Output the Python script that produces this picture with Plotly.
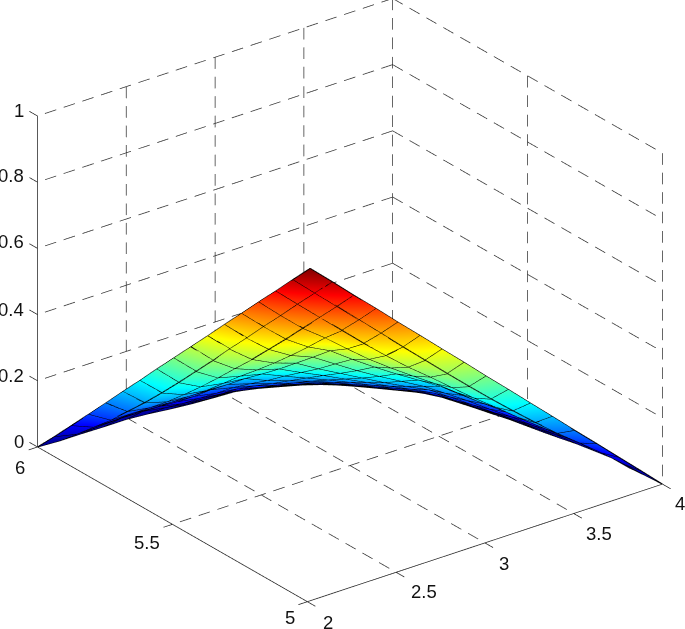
import plotly.graph_objects as go

x_ticks = [2, 2.5, 3, 3.5, 4]
y_ticks = [5, 5.5, 6]
z_ticks = [0, 0.2, 0.4, 0.6, 0.8, 1]

# surface nodes, one row per mesh line
x_grid = [
    [3.014,3.076,3.137,3.199,3.260,3.322,3.384,3.446,3.507,3.569,3.631,3.692,3.754,3.816,3.878,3.939,4.000],
    [2.950,3.008,3.065,3.123,3.180,3.238,3.296,3.356,3.416,3.480,3.546,3.617,3.692,3.775,3.853,3.926,3.993],
    [2.886,2.939,2.996,3.051,3.108,3.170,3.237,3.312,3.381,3.455,3.533,3.609,3.688,3.768,3.852,3.925,3.983],
    [2.823,2.872,2.925,3.001,3.065,3.134,3.211,3.294,3.381,3.457,3.534,3.616,3.690,3.765,3.845,3.925,3.983],
    [2.759,2.804,2.857,2.937,3.042,3.119,3.199,3.286,3.376,3.465,3.539,3.614,3.692,3.766,3.838,3.913,3.965],
    [2.695,2.736,2.790,2.878,2.992,3.074,3.158,3.247,3.340,3.436,3.516,3.594,3.668,3.743,3.812,3.884,3.946],
    [2.632,2.668,2.727,2.825,2.944,3.031,3.122,3.213,3.305,3.402,3.503,3.576,3.650,3.721,3.793,3.860,3.922],
    [2.568,2.601,2.666,2.775,2.898,2.992,3.090,3.183,3.279,3.373,3.469,3.564,3.633,3.704,3.775,3.840,3.899],
    [2.504,2.534,2.606,2.731,2.856,2.954,3.054,3.156,3.252,3.346,3.439,3.535,3.620,3.686,3.752,3.820,3.878],
    [2.440,2.467,2.549,2.678,2.816,2.914,3.020,3.124,3.225,3.318,3.412,3.502,3.596,3.671,3.734,3.797,3.857],
    [2.377,2.404,2.497,2.628,2.771,2.878,2.983,3.090,3.195,3.293,3.383,3.472,3.562,3.651,3.716,3.774,3.831],
    [2.313,2.345,2.452,2.585,2.725,2.840,2.949,3.056,3.161,3.263,3.355,3.442,3.527,3.613,3.698,3.752,3.806],
    [2.249,2.293,2.412,2.542,2.674,2.790,2.915,3.017,3.124,3.226,3.322,3.412,3.493,3.575,3.657,3.730,3.780],
    [2.186,2.243,2.378,2.503,2.630,2.742,2.862,2.983,3.085,3.188,3.286,3.376,3.459,3.537,3.614,3.692,3.753],
    [2.122,2.199,2.334,2.466,2.592,2.694,2.813,2.933,3.048,3.146,3.245,3.337,3.421,3.499,3.571,3.645,3.718],
    [2.058,2.160,2.291,2.423,2.550,2.656,2.761,2.879,2.999,3.104,3.199,3.292,3.381,3.458,3.530,3.600,3.668],
    [2.000,2.118,2.242,2.364,2.488,2.601,2.710,2.822,2.938,3.057,3.152,3.244,3.332,3.414,3.487,3.553,3.618],
]
y_grid = [
    [5.657,5.616,5.575,5.534,5.493,5.452,5.411,5.370,5.329,5.287,5.246,5.205,5.164,5.123,5.082,5.041,5.000],
    [5.678,5.634,5.590,5.547,5.503,5.459,5.416,5.373,5.331,5.292,5.254,5.218,5.186,5.158,5.129,5.095,5.057],
    [5.699,5.653,5.608,5.563,5.519,5.478,5.440,5.407,5.373,5.339,5.309,5.277,5.246,5.218,5.191,5.158,5.114],
    [5.721,5.671,5.625,5.593,5.553,5.517,5.487,5.459,5.435,5.403,5.371,5.344,5.311,5.278,5.250,5.221,5.177],
    [5.742,5.690,5.643,5.614,5.601,5.570,5.541,5.517,5.494,5.471,5.438,5.406,5.375,5.342,5.309,5.276,5.228],
    [5.763,5.708,5.662,5.639,5.632,5.604,5.578,5.554,5.534,5.515,5.486,5.456,5.422,5.390,5.354,5.319,5.280],
    [5.784,5.727,5.683,5.666,5.663,5.638,5.617,5.595,5.573,5.556,5.540,5.507,5.473,5.438,5.404,5.367,5.326],
    [5.805,5.745,5.707,5.696,5.696,5.676,5.658,5.638,5.620,5.599,5.581,5.562,5.526,5.490,5.455,5.417,5.374],
    [5.827,5.764,5.730,5.730,5.731,5.714,5.698,5.683,5.665,5.645,5.625,5.606,5.580,5.542,5.504,5.466,5.423],
    [5.848,5.784,5.756,5.759,5.768,5.750,5.738,5.726,5.710,5.690,5.670,5.647,5.627,5.595,5.554,5.515,5.473],
    [5.869,5.805,5.785,5.789,5.801,5.790,5.777,5.766,5.753,5.736,5.714,5.690,5.667,5.644,5.605,5.563,5.518],
    [5.890,5.830,5.818,5.824,5.835,5.827,5.818,5.806,5.794,5.779,5.758,5.734,5.708,5.682,5.657,5.611,5.565],
    [5.911,5.858,5.855,5.859,5.863,5.858,5.858,5.844,5.833,5.818,5.800,5.777,5.749,5.721,5.692,5.659,5.611],
    [5.932,5.888,5.895,5.896,5.898,5.890,5.887,5.885,5.870,5.856,5.839,5.816,5.789,5.759,5.728,5.697,5.656],
    [5.954,5.923,5.929,5.935,5.935,5.921,5.918,5.915,5.908,5.892,5.875,5.854,5.827,5.796,5.764,5.730,5.696],
    [5.975,5.959,5.964,5.970,5.971,5.959,5.947,5.942,5.940,5.927,5.908,5.888,5.863,5.833,5.798,5.763,5.727],
    [6.000,5.995,5.995,5.993,5.993,5.986,5.976,5.968,5.963,5.959,5.941,5.918,5.895,5.867,5.834,5.796,5.757],
]
z_grid = [
    [.520,.488,.455,.423,.390,.358,.325,.293,.260,.228,.195,.163,.130,.098,.065,.033,0],
    [.488,.457,.427,.396,.366,.335,.305,.274,.244,.213,.183,.152,.122,.091,.061,.030,0],
    [.455,.427,.398,.370,.341,.313,.284,.256,.228,.199,.171,.142,.114,.085,.057,.028,0],
    [.423,.396,.370,.343,.317,.290,.264,.238,.211,.185,.158,.132,.106,.079,.053,.026,0],
    [.390,.366,.341,.317,.293,.268,.244,.219,.195,.171,.146,.122,.098,.073,.049,.024,0],
    [.358,.335,.313,.290,.268,.246,.223,.201,.179,.156,.134,.112,.089,.067,.045,.022,0],
    [.325,.305,.284,.264,.244,.223,.203,.183,.163,.142,.122,.102,.081,.061,.041,.020,0],
    [.293,.274,.256,.238,.219,.201,.183,.165,.146,.128,.110,.091,.073,.055,.037,.018,0],
    [.260,.244,.228,.211,.195,.179,.163,.146,.130,.114,.098,.081,.065,.049,.033,.016,0],
    [.228,.213,.199,.185,.171,.156,.142,.128,.114,.100,.085,.071,.057,.043,.028,.014,0],
    [.195,.183,.171,.158,.146,.134,.122,.110,.098,.085,.073,.061,.049,.037,.024,.012,0],
    [.163,.152,.142,.132,.122,.112,.102,.091,.081,.071,.061,.051,.041,.030,.020,.010,0],
    [.130,.122,.114,.106,.098,.089,.081,.073,.065,.057,.049,.041,.033,.024,.016,.008,0],
    [.098,.091,.085,.079,.073,.067,.061,.055,.049,.043,.037,.030,.024,.018,.012,.006,0],
    [.065,.061,.057,.053,.049,.045,.041,.037,.033,.028,.024,.020,.016,.012,.008,.004,0],
    [.033,.030,.028,.026,.024,.022,.020,.018,.016,.014,.012,.010,.008,.006,.004,.002,0],
    [0,0,0,0,0,0,0,0,0,0,0,0,0,0,0,0,0],
]

jet = [
    [0, "#00008f"],
    [0.125, "#0000ff"],
    [0.375, "#00ffff"],
    [0.625, "#ffff00"],
    [0.875, "#ff0000"],
    [1, "#800000"],
]

PAGE_W = 685
PAGE_H = 629


def add_lines(fig, segments, color="#222222", width=1):
    xs, ys, zs = [], [], []
    for seg in segments:
        for p in seg:
            xs.append(p[0])
            ys.append(p[1])
            zs.append(p[2])
        xs.append(None)
        ys.append(None)
        zs.append(None)
    fig.add_trace(
        go.Scatter3d(
            x=xs, y=ys, z=zs, mode="lines",
            line=dict(color=color, width=width),
            hoverinfo="skip", showlegend=False,
        )
    )


def dashed(start, end, periods, on=0.6):
    # line dash in gl is unreliable at this width, so break the line up
    out = []
    for n in range(periods):
        t0 = n / periods
        t1 = (n + on) / periods
        out.append([
            tuple(a + (b - a) * t0 for a, b in zip(start, end)),
            tuple(a + (b - a) * t1 for a, b in zip(start, end)),
        ])
    return out


def tick_label(value, px, py, anchor="center"):
    return dict(
        xref="paper", yref="paper", x=px / PAGE_W, y=1 - py / PAGE_H,
        text=f"{value:g}", showarrow=False,
        xanchor=anchor, yanchor="middle",
        font=dict(family="Liberation Sans", size=18.5, color="#111111"),
    )


x_min, x_max = x_ticks[0], x_ticks[-1]
y_min, y_max = y_ticks[0], y_ticks[-1]
z_min, z_max = z_ticks[0], z_ticks[-1]

fig = go.Figure()

fig.add_trace(
    go.Surface(
        x=x_grid, y=y_grid, z=z_grid,
        colorscale=jet, cmin=0, cmax=0.52, showscale=False,
        lighting=dict(ambient=1, diffuse=0, specular=0, fresnel=0, roughness=1),
        hoverinfo="skip",
    )
)

# mesh lines along both grid directions
mesh = []
for xr, yr, zr in zip(x_grid, y_grid, z_grid):
    mesh.append(list(zip(xr, yr, zr)))
for xc, yc, zc in zip(zip(*x_grid), zip(*y_grid), zip(*z_grid)):
    mesh.append(list(zip(xc, yc, zc)))
add_lines(fig, mesh, color="#000000", width=2)

# dashed grid on floor and back walls
grid = []
for xt in x_ticks[1:-1]:
    grid += dashed((xt, y_max, z_min), (xt, y_min, z_min), 16)
    grid += dashed((xt, y_max, z_max), (xt, y_max, z_min), 17)
for yt in y_ticks[1:-1]:
    grid += dashed((x_max, yt, z_min), (x_min, yt, z_min), 19)
    grid += dashed((x_max, yt, z_max), (x_max, yt, z_min), 17)
for zt in z_ticks:
    grid += dashed((x_max, y_max, zt), (x_min, y_max, zt), 19)
    grid += dashed((x_max, y_max, zt), (x_max, y_min, zt), 16)
grid += dashed((x_max, y_max, z_max), (x_max, y_max, z_min), 17)
grid += dashed((x_max, y_min, z_max), (x_max, y_min, z_min), 17)
add_lines(fig, grid, color="#333333", width=1.5)

# axis lines and tick stubs
axes = [
    [(x_min, y_min, z_min), (x_max, y_min, z_min)],
    [(x_min, y_min, z_min), (x_min, y_max, z_min)],
    [(x_min, y_max, z_min), (x_min, y_max, z_max)],
]
for xt in x_ticks:
    axes.append([(xt, y_min, z_min), (xt, y_min - 0.03, z_min)])
for yt in y_ticks:
    axes.append([(x_min, yt, z_min), (x_min - 0.05, yt, z_min)])
for zt in z_ticks:
    axes.append([(x_min, y_max, zt), (x_min, y_max + 0.03, zt)])
add_lines(fig, axes, color="#222222", width=1.5)

x_label_px = [(328, 622), (424, 591), (504, 563), (599, 533), (680, 503)]
y_label_px = [(290, 617), (147, 542), (20, 467)]
z_label_py = [441, 375, 309, 242, 176, 110]

notes = []
for xt, (px, py) in zip(x_ticks, x_label_px):
    notes.append(tick_label(xt, px, py))
for yt, (px, py) in zip(y_ticks, y_label_px):
    notes.append(tick_label(yt, px, py))
for zt, py in zip(z_ticks, z_label_py):
    notes.append(tick_label(zt, 26, py, anchor="right"))

# ranges padded by 5% each side so lines on the box edge are not clipped by gl
hidden = dict(visible=False, showgrid=False, zeroline=False, showbackground=False)
fig.update_layout(
    width=PAGE_W,
    height=PAGE_H,
    margin=dict(l=0, r=0, t=0, b=0),
    paper_bgcolor="white",
    showlegend=False,
    annotations=notes,
    scene=dict(
        domain=dict(x=[0.0219, 1], y=[0, 1]),
        xaxis=dict(range=[1.9, 4.1], **hidden),
        yaxis=dict(range=[4.95, 6.05], **hidden),
        zaxis=dict(range=[-0.05, 1.05], **hidden),
        aspectmode="manual",
        aspectratio=dict(x=1.56, y=1.56, z=1.286),
        camera=dict(
            projection=dict(type="orthographic"),
            center=dict(x=0, y=0, z=-0.051),
            eye=dict(x=-0.68, y=-0.895, z=0.493),
            up=dict(x=0, y=0, z=1),
        ),
    ),
)

# the page's default 8px body margin would push the plot off the window
fig.write_html(
    "out.html",
    config={"displayModeBar": False},
    post_script="document.body.style.margin = '0';",
)
